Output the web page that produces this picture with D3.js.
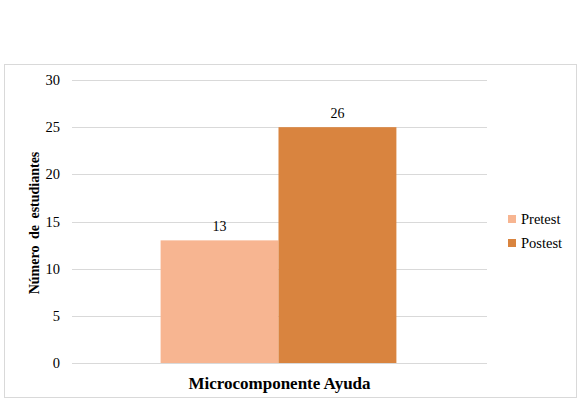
<!DOCTYPE html>
<html>
<head>
<meta charset="utf-8">
<script src="https://cdn.jsdelivr.net/npm/d3@7"></script>
<style>
  body { margin: 0; background: #fff; }
  svg text { font-family: 'Liberation Serif', 'Times New Roman', serif; fill: #000; }
</style>
</head>
<body>
<svg id="chart" width="581" height="402"></svg>
<script>
const category = 'Microcomponente Ayuda';
const seriesNames = ['Pretest', 'Postest'];
const values = [13, 25];
const valueLabels = ['13', '26'];
const yTicks = [0, 5, 10, 15, 20, 25, 30];
const colors = ['#F7B591', '#D9843F'];

const svg = d3.select('#chart');

// chart frame
svg.append('rect')
  .attr('x', 4.5).attr('y', 64.5)
  .attr('width', 572).attr('height', 333)
  .attr('fill', '#fff')
  .attr('stroke', '#d9d9d9');

const plot = { left: 72, right: 487, top: 80, bottom: 363 };

const y = d3.scaleLinear().domain([0, 30]).range([plot.bottom, plot.top]);
const x0 = d3.scaleBand().domain([category]).range([plot.left, plot.right]).paddingInner(0).paddingOuter(0.38);
const x1 = d3.scaleBand().domain(seriesNames).range([0, x0.bandwidth()]).padding(0);

// gridlines
svg.append('g')
  .selectAll('line')
  .data(yTicks)
  .join('line')
  .attr('x1', plot.left).attr('x2', plot.right)
  .attr('y1', d => Math.round(y(d)) + 0.5).attr('y2', d => Math.round(y(d)) + 0.5)
  .attr('stroke', '#d9d9d9');

// y tick labels
svg.append('g')
  .selectAll('text')
  .data(yTicks)
  .join('text')
  .attr('x', 60).attr('y', d => y(d))
  .attr('dy', '0.35em')
  .attr('text-anchor', 'end')
  .style('font-size', '14.5px')
  .text(d => d);

// bars
const g = svg.append('g').attr('transform', `translate(${x0(category) - 1},0)`);
g.selectAll('rect')
  .data(values)
  .join('rect')
  .attr('x', (d, i) => x1(seriesNames[i]))
  .attr('width', x1.bandwidth())
  .attr('y', d => y(d))
  .attr('height', d => y(0) - y(d))
  .attr('fill', (d, i) => colors[i]);

g.selectAll('text')
  .data(values)
  .join('text')
  .attr('x', (d, i) => x1(seriesNames[i]) + x1.bandwidth() / 2)
  .attr('y', d => y(d) - 9)
  .attr('text-anchor', 'middle')
  .style('font-size', '14px')
  .text((d, i) => valueLabels[i]);

// axis titles
svg.append('text')
  .attr('x', x0(category) + x0.bandwidth() / 2)
  .attr('y', 389)
  .attr('text-anchor', 'middle')
  .style('font-size', '17px')
  .style('font-weight', 'bold')
  .text(category);

svg.append('text')
  .attr('transform', 'translate(39,223) rotate(-90)')
  .attr('text-anchor', 'middle')
  .style('font-size', '14px')
  .style('font-weight', 'bold')
  .style('word-spacing', '3px')
  .text('Número de estudiantes');

// legend
const legend = svg.append('g')
  .selectAll('g')
  .data(seriesNames)
  .join('g')
  .attr('transform', (d, i) => `translate(508,${215 + i * 24})`);

legend.append('rect')
  .attr('width', 8).attr('height', 8)
  .attr('fill', (d, i) => colors[i]);

legend.append('text')
  .attr('x', 13).attr('y', 4)
  .attr('dy', '0.35em')
  .style('font-size', '14.5px')
  .text(d => d);
</script>
</body>
</html>
